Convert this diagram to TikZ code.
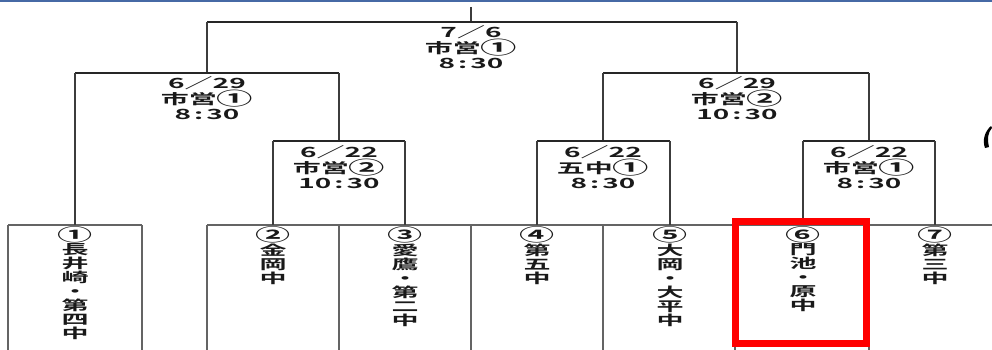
\documentclass[tikz,border=0pt]{standalone}
\usepackage{fontspec}
\newfontfamily\jpf[FakeStretch=2]{Noto Sans CJK JP Bold}
\newcommand\cnum[1]{\raisebox{-0.08em}{\scalebox{1.3}{#1}}}
\newcommand\tcol{\hspace{3pt}:\hspace{3pt}}
\definecolor{topblue}{RGB}{70,105,165}
\definecolor{linegray}{RGB}{60,60,60}
\definecolor{boxgray}{RGB}{100,100,100}
\begin{document}
\begin{tikzpicture}[x=1pt,y=-1pt,
  hline/.style={line width=1.3pt, draw=black!85},
  vline/.style={line width=1.8pt, draw=linegray},
  teamline/.style={line width=1.9pt, draw=boxgray},
  mlabel/.style={font=\jpf\fontsize{14}{15}\selectfont, align=center, inner sep=0pt, text=black!90},
  tlabel/.style={font=\jpf\fontsize{13.5}{14}\selectfont, align=center, inner sep=0pt, anchor=north, text=black!90},
  redbox/.style={line width=6.5pt, draw=red}]
\useasboundingbox (0,0) rectangle (992,350);
\fill[topblue] (0,0) rectangle (992,1.6);
% coordinates of the bracket
\coordinate (top0) at (471,7);
\coordinate (top1) at (471,22);
\coordinate (fL) at (207,22);
\coordinate (fR) at (737,22);
\coordinate (sL) at (207,73);
\coordinate (sR) at (737,73);
\coordinate (sLa) at (75,73);
\coordinate (sLb) at (339,73);
\coordinate (sRa) at (603,73);
\coordinate (sRb) at (869,73);
\coordinate (qA) at (339,141);
\coordinate (qB) at (603,141);
\coordinate (qC) at (869,141);
\coordinate (qAa) at (273,141);
\coordinate (qAb) at (405,141);
\coordinate (qBa) at (537,141);
\coordinate (qBb) at (670,141);
\coordinate (qCa) at (803,141);
\coordinate (qCb) at (935,141);
\coordinate (e1) at (75,225);
\coordinate (e2) at (273,225);
\coordinate (e3) at (405,225);
\coordinate (e4) at (537,225);
\coordinate (e5) at (670,225);
\coordinate (e6) at (803,225);
\coordinate (e7) at (935,225);
% baseline of team boxes
\coordinate (b0) at (8,225);
\coordinate (b1) at (142,225);
\coordinate (b2) at (207,225);
\coordinate (b3) at (339,225);
\coordinate (b4) at (471,225);
\coordinate (b5) at (603,225);
\coordinate (b6) at (735,225);
\coordinate (b7) at (869,225);
\coordinate (b8) at (992,225);
\foreach \n/\x in {b0/8,b1/142,b2/207,b3/339,b4/471,b5/603,b6/735,b7/869}
  \coordinate (\n d) at (\x,350);
% team box lines
\draw[teamline] (b0) -- (b1);
\draw[teamline] (b2) -- (b8);
\foreach \n in {b0,b1,b2,b3,b4,b5,b6,b7}
  \draw[teamline] (\n) -- (\n d);
% bracket lines
\draw[vline] (top0) -- (top1);
\draw[hline] (fL) -- (fR);
\draw[vline] (fL) -- (sL);
\draw[vline] (fR) -- (sR);
\draw[hline] (sLa) -- (sLb);
\draw[hline] (sRa) -- (sRb);
\draw[vline] (sLa) -- (e1);
\draw[vline] (sLb) -- (qA);
\draw[vline] (sRa) -- (qB);
\draw[vline] (sRb) -- (qC);
\draw[hline] (qAa) -- (qAb);
\draw[hline] (qBa) -- (qBb);
\draw[hline] (qCa) -- (qCb);
\draw[vline] (qAa) -- (e2);
\draw[vline] (qAb) -- (e3);
\draw[vline] (qBa) -- (e4);
\draw[vline] (qBb) -- (e5);
\draw[vline] (qCa) -- (e6);
\draw[vline] (qCb) -- (e7);
% match labels
\node[mlabel] (m1) at (471,47) {7／6\\市営\cnum{①}\\8\tcol30};
\node[mlabel] (m2) at (207,98) {6／29\\市営\cnum{①}\\8\tcol30};
\node[mlabel] (m3) at (737,98) {6／29\\市営\cnum{②}\\10\tcol30};
\node[mlabel] (m4) at (339,167) {6／22\\市営\cnum{②}\\10\tcol30};
\node[mlabel] (m5) at (603,167) {6／22\\五中\cnum{①}\\8\tcol30};
\node[mlabel] (m6) at (869,167) {6／22\\市営\cnum{①}\\8\tcol30};
% team labels
\node[tlabel] (t1) at (75,226) {\cnum{①}\\長\\井\\崎\\・\\第\\四\\中};
\node[tlabel] (t2) at (273,226) {\cnum{②}\\金\\岡\\中};
\node[tlabel] (t3) at (405,226) {\cnum{③}\\愛\\鷹\\・\\第\\二\\中};
\node[tlabel] (t4) at (537,226) {\cnum{④}\\第\\五\\中};
\node[tlabel] (t5) at (670,226) {\cnum{⑤}\\大\\岡\\・\\大\\平\\中};
\node[tlabel] (t6) at (803,226) {\cnum{⑥}\\門\\池\\・\\原\\中};
\node[tlabel] (t7) at (935,226) {\cnum{⑦}\\第\\三\\中};
% highlight
\draw[redbox] (735.5,221.5) rectangle (866.5,343.5);
% partial mark at right edge
\fill[black] (991,126) .. controls (985,131) and (982,140) .. (985,148)
  -- (989,147) .. controls (987,139) and (988,132) .. (992,128) -- cycle;
\end{tikzpicture}
\end{document}
